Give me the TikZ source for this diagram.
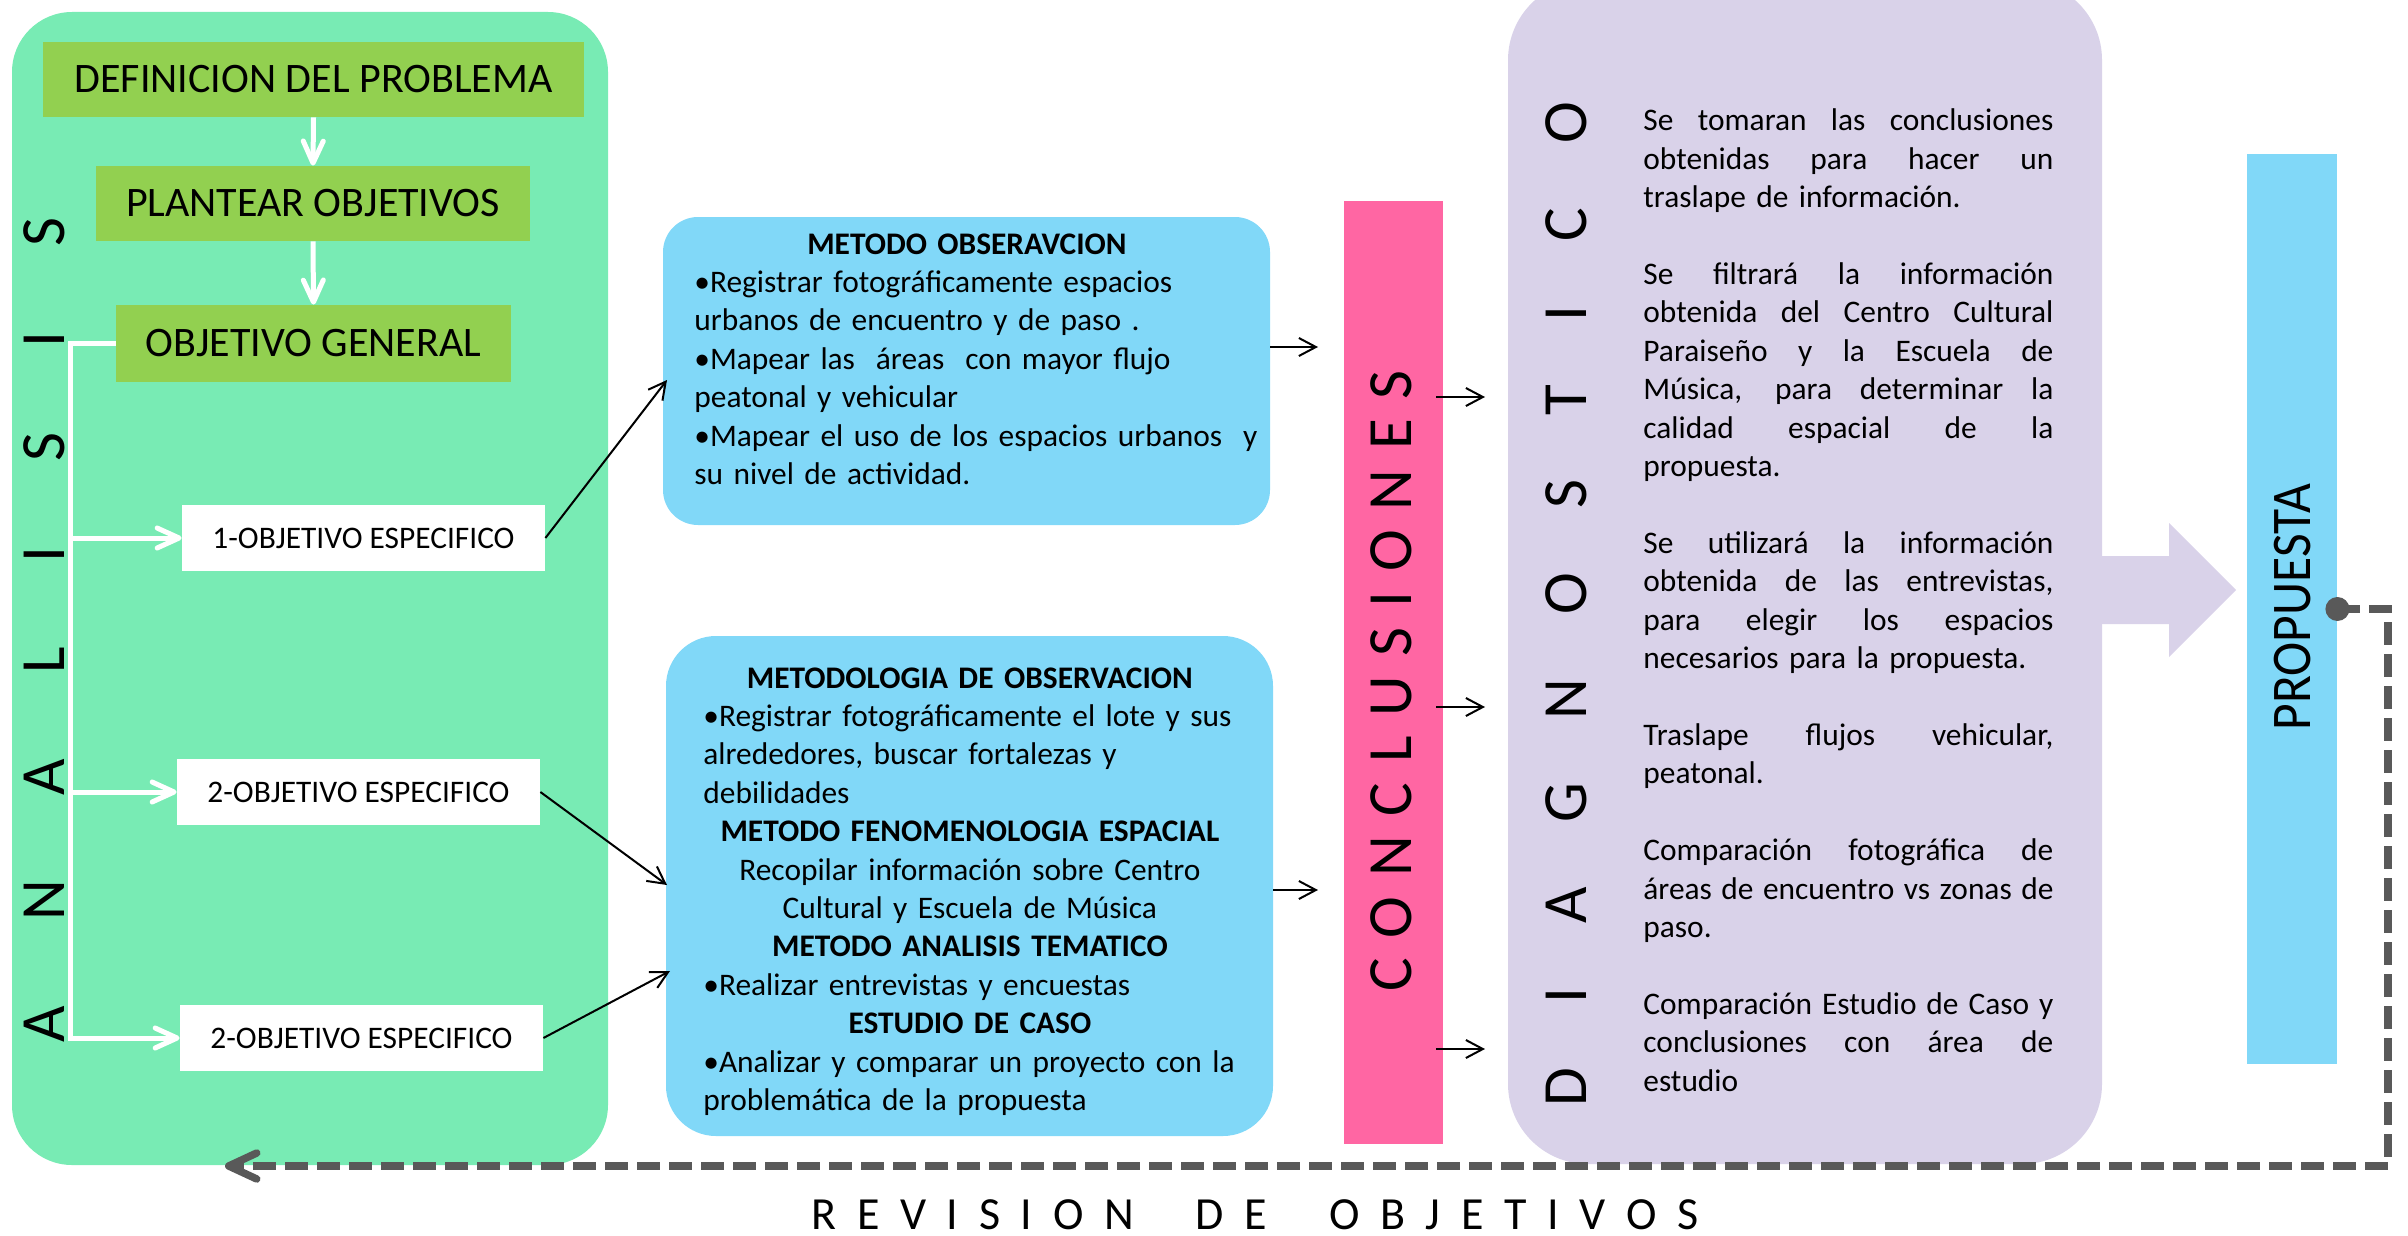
\documentclass[tikz,border=0pt]{standalone}
\usepackage{fontspec}
\usepackage{graphicx}
\setmainfont{Carlito}
\usetikzlibrary{arrows.meta}
\definecolor{mint}{RGB}{120,235,180}
\definecolor{oliveg}{RGB}{146,208,80}
\definecolor{skyb}{RGB}{129,216,248}
\definecolor{hotpink}{RGB}{255,102,163}
\definecolor{lav}{RGB}{217,210,233}
\definecolor{dgray}{RGB}{89,89,89}
\makeatletter
\def\sp@loop#1{\ifx\relax#1\else#1\kern\sp@gap\expandafter\sp@loop\fi}
\newcommand\spacedout[2]{\def\sp@gap{#1}\sp@loop#2\relax\unkern}
\makeatother
\newcommand\rowL[1]{\hbox{#1}\par}
\newcommand\rowC[1]{\hbox to\linewidth{\hfil#1\hfil}\par}
\newcommand\rowJ[1]{\hbox to\linewidth{\spaceskip=\fontdimen2\font plus 1fil\relax#1}\par}
\newcommand\blankrow{\par\vspace{\baselineskip}}
\begin{document}
\begin{tikzpicture}[x=0.5pt,y=-0.5pt,
  panelbox/.style={fill=mint, rounded corners=30pt, inner sep=0},
  gbox/.style={fill=oliveg, inner sep=0, font=\fontsize{21}{25}\selectfont},
  wbox/.style={fill=white, inner sep=0, font=\fontsize{15.7}{19}\selectfont},
  bbox/.style={fill=skyb, inner sep=0},
  btext/.style={inner sep=0, anchor=base west, font=\fontsize{15.7}{19.2}\selectfont},
  vlet/.style={rotate=90, inner sep=0, anchor=south, font=\fontsize{31.5}{36}\selectfont},
  warrow/.style={draw=white, line width=2.5pt, -{Straight Barb[length=11pt,width=10pt,round]}},
  barrow/.style={draw=black, line width=1pt, -{Straight Barb[length=8.5pt,width=9pt]}},
  retline/.style={draw=dgray, line width=3.75pt, dash pattern=on 11.5pt off 4.5pt, -{Straight Barb[length=14pt,width=13pt,round]}}
]
\useasboundingbox (0,0) rectangle (2408,1236);

% ANALISIS panel
\node[panelbox, minimum width=298pt, minimum height=576.5pt] (anal) at (310,588.5) {};
\node[gbox, minimum width=270.5pt, minimum height=37.5pt] (defp) at (313.5,79.5) {DEFINICION DEL PROBLEMA};
\node[gbox, minimum width=217pt, minimum height=37.5pt] (plan) at (313,203.5) {PLANTEAR OBJETIVOS};
\node[gbox, minimum width=197.5pt, minimum height=38.5pt] (objg) at (313.5,343.5) {OBJETIVO GENERAL};
\node[wbox, minimum width=181.5pt, minimum height=33pt] (ob1) at (363.5,538) {1-OBJETIVO ESPECIFICO};
\node[wbox, minimum width=181.5pt, minimum height=33pt] (ob2) at (358.5,792) {2-OBJETIVO ESPECIFICO};
\node[wbox, minimum width=181.5pt, minimum height=33pt] (ob3) at (361.5,1038) {2-OBJETIVO ESPECIFICO};
\node[vlet] (analt) at (65,630) {\spacedout{42.5pt}{ANALISIS}};

\draw[warrow] (defp.south) -- (plan.north);
\draw[warrow] (plan.south) -- (objg.north);
\coordinate (trtop) at (70,343.5);
\draw[warrow] (objg.west) -- (trtop) -- (trtop |- ob3) -- (ob3.west);
\draw[warrow] (trtop |- ob1) -- (ob1.west);
\draw[warrow] (trtop |- ob2) -- (ob2.west);

% Methods
\node[bbox, rounded corners=17.5pt, minimum width=303.5pt, minimum height=154pt] (mb1) at (966.5,371) {};
\node[btext, text width=272.5pt] (mt1) at (694,254) {%
\rowC{\bfseries METODO OBSERAVCION}
\rowL{•Registrar fotográficamente espacios}
\rowL{urbanos de encuentro y de paso .}
\rowL{•Mapear las~ áreas~ con mayor flujo}
\rowL{peatonal y vehicular}
\rowL{•Mapear el uso de los espacios urbanos~ y}
\rowL{su nivel de actividad.}};

\node[bbox, rounded corners=25pt, minimum width=303.5pt, minimum height=250pt] (mb2) at (969.5,886) {};
\node[btext, text width=266.5pt] (mt2) at (703,688) {%
\rowC{\bfseries METODOLOGIA DE OBSERVACION}
\rowL{•Registrar fotográficamente el lote y sus}
\rowL{alrededores, buscar fortalezas y}
\rowL{debilidades}
\rowC{\bfseries METODO FENOMENOLOGIA ESPACIAL}
\rowC{Recopilar información sobre Centro}
\rowC{Cultural y Escuela de Música}
\rowC{\bfseries METODO ANALISIS TEMATICO}
\rowL{•Realizar entrevistas y encuestas}
\rowC{\bfseries ESTUDIO DE CASO}
\rowL{•Analizar y comparar un proyecto con la}
\rowL{problemática de la propuesta}};

\coordinate (in1) at (667,380);
\coordinate (in2) at (667,885);
\coordinate (in3) at (670,971);
\draw[barrow] (ob1.east) -- (in1);
\draw[barrow] (ob2.east) -- (in2);
\draw[barrow] (ob3.east) -- (in3);

% Conclusiones
\node[fill=hotpink, inner sep=0, minimum width=49.5pt, minimum height=471.5pt] (conc) at (1393.5,672.5) {};
\node[vlet] (conct) at (1412,681) {\spacedout{9.9pt}{CONCLUSIONES}};
\coordinate (c1s) at (1270,347); \coordinate (c1e) at (1318,347);
\coordinate (c2s) at (1273,890); \coordinate (c2e) at (1318,890);
\draw[barrow] (c1s) -- (c1e);
\draw[barrow] (c2s) -- (c2e);

% Diagnostico
\node[fill=lav, rounded corners=40pt, inner sep=0, minimum width=297pt, minimum height=592pt] (diag) at (1805,572) {};
\node[vlet] (diagt) at (1587,604) {\spacedout{32pt}{DIAGNOSTICO}};
\node[btext, text width=205pt] (dt) at (1643,131) {%
\rowJ{Se tomaran las conclusiones}
\rowJ{obtenidas para hacer un}
\rowL{traslape de información.}
\blankrow
\rowJ{Se filtrará la información}
\rowJ{obtenida del Centro Cultural}
\rowJ{Paraiseño y la Escuela de}
\rowJ{Música, para determinar la}
\rowJ{calidad espacial de la}
\rowL{propuesta.}
\blankrow
\rowJ{Se utilizará la información}
\rowJ{obtenida de las entrevistas,}
\rowJ{para elegir los espacios}
\rowL{necesarios para la propuesta.}
\blankrow
\rowJ{Traslape flujos vehicular,}
\rowL{peatonal.}
\blankrow
\rowJ{Comparación fotográfica de}
\rowJ{áreas de encuentro vs zonas de}
\rowL{paso.}
\blankrow
\rowJ{Comparación Estudio de Caso y}
\rowJ{conclusiones con área de}
\rowL{estudio}};
\coordinate (d1s) at (1436,397); \coordinate (d1e) at (1485,397);
\coordinate (d2s) at (1436,707); \coordinate (d2e) at (1485,707);
\coordinate (d3s) at (1436,1049); \coordinate (d3e) at (1485,1049);
\draw[barrow] (d1s) -- (d1e);
\draw[barrow] (d2s) -- (d2e);
\draw[barrow] (d3s) -- (d3e);

% Block arrow
\fill[lav] (2102,556) -- (2169,556) -- (2169,523) -- (2236,590) -- (2169,657) -- (2169,624) -- (2102,624) -- cycle;

% Propuesta
\node[fill=skyb, inner sep=0, minimum width=45pt, minimum height=455pt] (prop) at (2292,609) {};
\node[rotate=90, anchor=south, inner sep=0, font=\fontsize{28}{32}\selectfont] (propt) at (2311,607) {\scalebox{0.92}[1]{PROPUESTA}};

% Return connector
\coordinate (pdot) at (prop.east);
\coordinate (rc1) at (2388,609);
\coordinate (rc2) at (2388,1166);
\coordinate (rend) at (225,1166);
\fill[dgray] (pdot) circle (6pt);
\draw[retline] (pdot) -- (rc1) -- (rc2) -- (rend);
\node[inner sep=0, anchor=base, font=\fontsize{23}{26}\selectfont] (revt) at (1255,1229) {\spacedout{10.3pt}{REVISION}\kern31pt\spacedout{10.3pt}{DE}\kern31pt\spacedout{10.3pt}{OBJETIVOS}};
\end{tikzpicture}
\end{document}
